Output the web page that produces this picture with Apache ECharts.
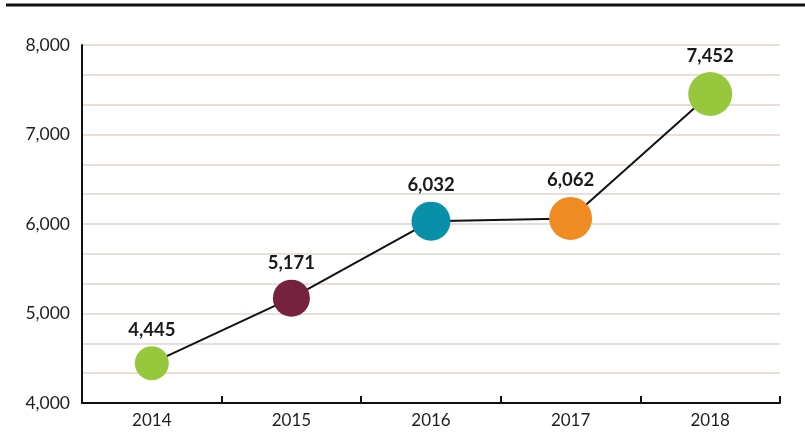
<!DOCTYPE html>
<html>
<head>
<meta charset="utf-8">
<script src="https://cdn.jsdelivr.net/npm/echarts@6/dist/echarts.min.js"></script>
<style>html,body{margin:0;padding:0;background:#fff;}#c{width:805px;height:433px;}</style>
</head>
<body>
<div id="c"></div>
<script>
const years = ['2014', '2015', '2016', '2017', '2018'];
const values = [4445, 5171, 6032, 6062, 7452];
const yTicks = [4000, 5000, 6000, 7000, 8000];

const pointColors = ['#96c73d', '#76223f', '#0790a8', '#f08b24', '#96c73d'];
const pointSizes = [34, 37, 39, 43, 44];

const chart = echarts.init(document.getElementById('c'));
chart.setOption({
  animation: false,
  graphic: [{
    type: 'rect', shape: { x: 6, y: 3.5, width: 799, height: 3 }, style: { fill: '#111' }
  }],
  grid: { left: 82, right: 25, top: 45, bottom: 30 },
  xAxis: {
    type: 'category',
    data: years,
    boundaryGap: true,
    axisLine: { lineStyle: { color: '#111', width: 2 } },
    axisTick: { show: true, inside: true, length: 7, lineStyle: { color: '#111', width: 2 } },
    axisLabel: { color: '#1e1e1e', fontSize: 17, fontFamily: 'Lato', margin: 9 },
    splitLine: { show: false }
  },
  yAxis: {
    type: 'value',
    min: yTicks[0],
    max: yTicks[yTicks.length - 1],
    interval: 1000,
    axisLine: { show: true, lineStyle: { color: '#111', width: 2 } },
    axisTick: { show: false },
    axisLabel: {
      color: '#1e1e1e', fontSize: 17.5, fontFamily: 'Lato', margin: 12,
      formatter: v => v.toLocaleString('en-US')
    },
    splitLine: { show: true, lineStyle: { color: '#e8e0d8', width: 2 } },
    minorTick: { show: false, splitNumber: 3 },
    minorSplitLine: { show: true, lineStyle: { color: '#e8e0d8', width: 2 } }
  },
  series: [{
    type: 'line',
    data: values.map((v, i) => ({
      value: v,
      symbolSize: pointSizes[i],
      itemStyle: { color: pointColors[i] }
    })),
    symbol: 'circle',
    lineStyle: { color: '#111', width: 2 },
    label: {
      show: true,
      position: 'top',
      distance: 7,
      color: '#1a1a1a',
      fontSize: 18.5,
      fontWeight: 'bold',
      fontFamily: 'Lato',
      formatter: p => p.value.toLocaleString('en-US')
    },
    z: 3
  }]
});
</script>
</body>
</html>
